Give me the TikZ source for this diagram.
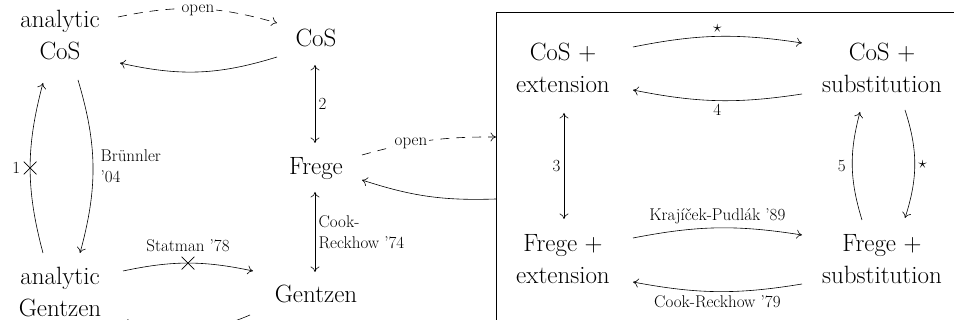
\documentclass[tikz,border=0pt]{standalone}
\usepackage{fontspec}
\usetikzlibrary{arrows.meta,shapes.misc}
\begin{document}
\begin{tikzpicture}[x=1pt,y=1pt,
  big/.style={font=\fontsize{25}{32}\selectfont, align=center, inner sep=0pt, anchor=base},
  lbl/.style={font=\fontsize{17}{21}\selectfont},
  tip/.tip={To[length=5.5pt,width=9pt]},
  arr/.style={-tip, line width=0.6pt},
  darr/.style={arr, dash pattern=on 9pt off 7pt},
  dbl/.style={tip-tip, line width=0.6pt},
  xmark/.style={cross out, draw, line width=0.7pt, minimum size=12pt, inner sep=0pt}]
\useasboundingbox (0,0) rectangle (954,320);
\clip (0,0) rectangle (954,320);
% nodes (base = baseline of last line)
\node[big] (aCoS) at (60,260) {analytic\\CoS};
\node[big] (CoS) at (316,273) {CoS};
\node[big] (Frege) at (316,145) {Frege};
\node[big] (Gen) at (316,17) {Gentzen};
\node[big] (aGen) at (60,3) {analytic\\Gentzen};
\node[draw, line width=0.6pt, anchor=north west, minimum width=520pt, minimum height=360pt, inner sep=0pt] (box) at (496,308) {};
\node[big] (CE) at (563,227) {CoS $+$\\extension};
\node[big] (CS) at (882,227) {CoS $+$\\substitution};
\node[big] (FE) at (563,36) {Frege $+$\\extension};
\node[big] (FS) at (882,36) {Frege $+$\\substitution};
% left part
\draw[darr] ([shift={(58,43)}]aCoS.base) to[bend left=14]
  node[lbl, fill=white, inner sep=1.5pt, yshift=-1.5pt] {open} ([shift={(-39,24)}]CoS.base);
\draw[arr] ([shift={(-39,-10)}]CoS.base) to[bend left=15] ([shift={(60,-3)}]aCoS.base);
\draw[dbl] ([shift={(-1,-18)}]CoS.base) -- node[lbl, right] {2} ([shift={(-1,32)}]Frege.base);
\draw[arr] ([shift={(-17,64)}]aGen.base) to[bend left=15]
  node[xmark, label={[lbl, label distance=0pt]left:1}] {} ([shift={(-17,-23)}]aCoS.base);
\draw[arr] ([shift={(18,-20)}]aCoS.base) to[bend left=16]
  node[lbl, right, align=left, xshift=4pt] {Brünnler\\’04} ([shift={(20,64)}]aGen.base);
\draw[arr] ([shift={(63,46)}]aGen.base) to[bend left=12]
  node[xmark, label={[lbl, label distance=1pt]above:Statman ’78}] {} ([shift={(-63,32)}]Gen.base);
\draw[arr] ([shift={(-66,-12)}]Gen.base) to[bend left=20] ([shift={(62,-5)}]aGen.base);
\draw[dbl] ([shift={(-1,-17)}]Frege.base) -- node[lbl, right, align=left] {Cook-\\Reckhow ’74} ([shift={(-1,31)}]Gen.base);
\draw[darr] ([shift={(46,20)}]Frege.base) to[bend left=8]
  node[lbl, fill=white, inner sep=2pt, pos=0.36] {open} ([shift={(0,-125)}]box.north west);
\draw[arr] ([shift={(0,-187)}]box.north west) to[bend left=10] ([shift={(46,-5)}]Frege.base);
% box part
\draw[arr] ([shift={(70,46)}]CE.base) to[bend left=10] node[lbl, above] {$\star$} ([shift={(-80,50)}]CS.base);
\draw[arr] ([shift={(-80,-1)}]CS.base) to[bend left=10] node[lbl, below] {4} ([shift={(70,3)}]CE.base);
\draw[dbl] ([shift={(1,-20)}]CE.base) -- node[lbl, left] {3} ([shift={(1,65)}]FE.base);
\draw[arr] ([shift={(-20,64)}]FS.base) to[bend left=16] node[lbl, left, xshift=-3pt] {5} ([shift={(-22,-19)}]CS.base);
\draw[arr] ([shift={(23,-17)}]CS.base) to[bend left=18] node[lbl, right] {$\star$} ([shift={(23,66)}]FS.base);
\draw[arr] ([shift={(70,46)}]FE.base) to[bend left=10] node[lbl, above] {Krajíček-Pudlák ’89} ([shift={(-80,49)}]FS.base);
\draw[arr] ([shift={(-80,0)}]FS.base) to[bend left=10] node[lbl, below] {Cook-Reckhow ’79} ([shift={(70,2)}]FE.base);
\end{tikzpicture}
\end{document}
